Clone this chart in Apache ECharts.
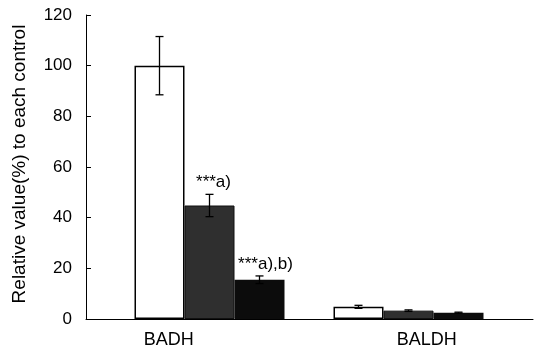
<!DOCTYPE html>
<html>
<head>
<meta charset="utf-8">
<script src="https://cdn.jsdelivr.net/npm/echarts@6/dist/echarts.min.js"></script>
<style>
  html, body { margin: 0; padding: 0; background: #fff; }
  #chart { width: 535px; height: 356px; }
</style>
</head>
<body>
<div id="chart"></div>
<script>
const categories = ['BADH', 'BALDH']
const yTicks = [0, 20, 40, 60, 80, 100, 120]

// three treatments per enzyme (open, stippled, solid)
const openValues = [100, 4.8]
const openErrors = [11.5, 0.6]
const stippledValues = [44.8, 3.3]
const stippledErrors = [4.4, 0.3]
const solidValues = [15.5, 2.5]
const solidErrors = [1.5, 0.2]

const stippledNotes = ['***a)', '']
const solidNotes = ['***a),b)', '']

const chart = echarts.init(document.getElementById('chart'))
const font = '"Liberation Sans", Arial, Helvetica, sans-serif'
const barWidth = 50

const noteLabel = (notes, offset) => ({
  show: true,
  position: 'top',
  distance: 15,
  offset: offset,
  fontFamily: font,
  fontSize: 17,
  color: '#000',
  formatter: (p) => notes[p.dataIndex] || ''
})

const errorSeries = (values, errors, shift) => ({
  type: 'custom',
  xAxisIndex: 1,
  yAxisIndex: 1,
  z: 5,
  data: values.map((v, i) => [i, v, errors[i]]),
  renderItem: (params, api) => {
    const i = api.value(0)
    const v = api.value(1)
    const e = api.value(2)
    const hi = api.coord([i, v + e])
    const lo = api.coord([i, v - e])
    const x = hi[0] + shift
    const cap = 4
    const style = { stroke: '#000', lineWidth: 1.3 }
    return {
      type: 'group',
      children: [
        { type: 'line', shape: { x1: x, y1: hi[1], x2: x, y2: lo[1] }, style },
        { type: 'line', shape: { x1: x - cap, y1: hi[1], x2: x + cap, y2: hi[1] }, style },
        { type: 'line', shape: { x1: x - cap, y1: lo[1], x2: x + cap, y2: lo[1] }, style }
      ]
    }
  }
})

chart.setOption({
  animation: false,
  grid: [
    { left: 86, right: 2, top: 15, bottom: 37 },
    { left: 110, right: 27, top: 15, bottom: 37 }
  ],
  xAxis: [
    {
      type: 'category',
      gridIndex: 0,
      data: categories,
      axisLine: { lineStyle: { color: '#000', width: 1 } },
      // only the tick at the right end of the axis
      axisTick: { show: true, inside: true, length: 5, interval: (i) => i === 2, lineStyle: { color: '#000' } },
      axisLabel: {
        margin: 12,
        fontFamily: font,
        fontSize: 18,
        color: '#000',
        formatter: (v, i) => (i === 0 ? '{a|' + v + '}' : '{b|' + v + '}'),
        rich: {
          a: { fontSize: 18, fontFamily: font, color: '#000', padding: [0, 58, 0, 0] },
          b: { fontSize: 18, fontFamily: font, color: '#000', padding: [0, 0, 0, 11] }
        }
      }
    },
    {
      type: 'category',
      gridIndex: 1,
      data: categories,
      show: false
    }
  ],
  yAxis: [
    {
      type: 'value',
      gridIndex: 0,
      min: yTicks[0],
      max: yTicks[yTicks.length - 1],
      interval: 20,
      name: 'Relative value(%) to each control',
      nameLocation: 'middle',
      nameGap: 57,
      nameTextStyle: { fontFamily: font, fontSize: 19, color: '#000', padding: [0, 0, 0, 6] },
      axisLine: { show: true, lineStyle: { color: '#000', width: 1 } },
      axisTick: { show: true, inside: true, length: 5, lineStyle: { color: '#000' } },
      axisLabel: { margin: 14, fontFamily: font, fontSize: 17, color: '#000' },
      splitLine: { show: false }
    },
    {
      type: 'value',
      gridIndex: 1,
      min: yTicks[0],
      max: yTicks[yTicks.length - 1],
      show: false,
      splitLine: { show: false }
    }
  ],
  series: [
    {
      type: 'bar',
      xAxisIndex: 1,
      yAxisIndex: 1,
      data: openValues,
      barWidth: barWidth,
      barGap: '0%',
      itemStyle: { color: '#fff', borderColor: '#000', borderWidth: 1.5 }
    },
    {
      type: 'bar',
      xAxisIndex: 1,
      yAxisIndex: 1,
      data: stippledValues,
      barWidth: barWidth,
      barGap: '0%',
      itemStyle: { color: '#2f2f2f', borderColor: '#111', borderWidth: 1 },
      label: noteLabel(stippledNotes, [4, 0])
    },
    {
      type: 'bar',
      xAxisIndex: 1,
      yAxisIndex: 1,
      data: solidValues,
      barWidth: barWidth,
      barGap: '0%',
      itemStyle: { color: '#0c0c0c' },
      label: noteLabel(solidNotes, [6, 8])
    },
    errorSeries(openValues, openErrors, -barWidth),
    errorSeries(stippledValues, stippledErrors, 0),
    errorSeries(solidValues, solidErrors, barWidth)
  ]
})
</script>
</body>
</html>
